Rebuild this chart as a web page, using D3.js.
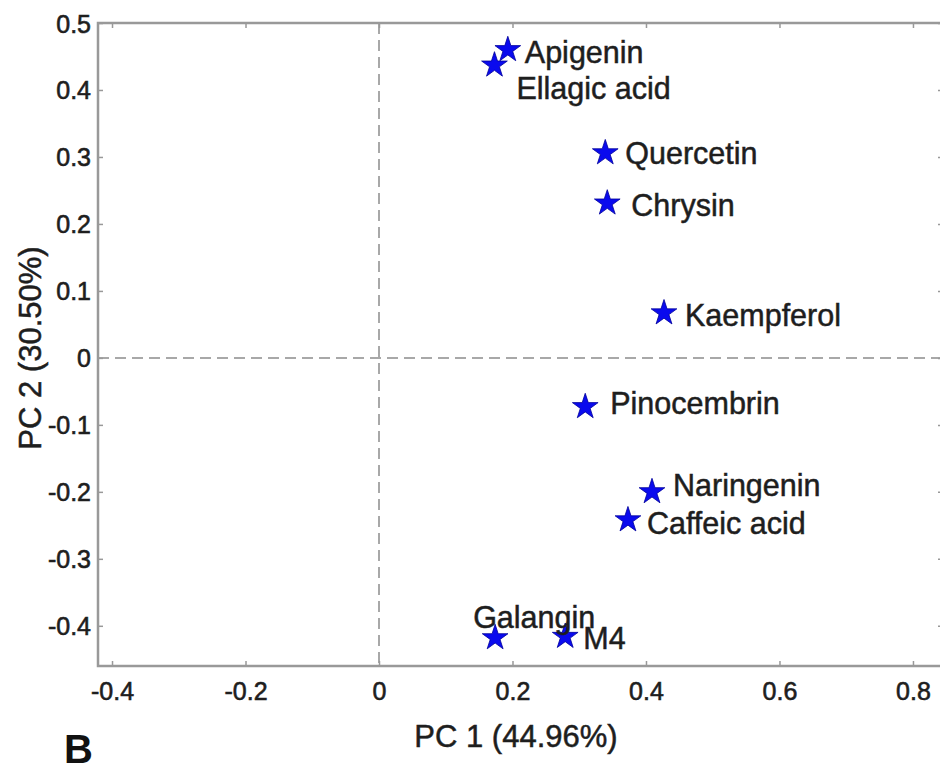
<!DOCTYPE html>
<html>
<head>
<meta charset="utf-8">
<script src="https://cdn.jsdelivr.net/npm/d3@7"></script>
<style>
  html, body { margin: 0; padding: 0; background: #fff; }
  svg { display: block; font-family: "Liberation Sans", Arial, Helvetica, sans-serif; }
</style>
</head>
<body>
<svg width="940" height="772"></svg>
<script>
// compound names and their scores on PC1 / PC2
var names = ["Apigenin", "Ellagic acid", "Quercetin", "Chrysin", "Kaempferol",
             "Pinocembrin", "Naringenin", "Caffeic acid", "Galangin", "M4"];
var pc1 = [0.193, 0.173, 0.339, 0.342, 0.427, 0.309, 0.409, 0.373, 0.174, 0.279];
var pc2 = [0.460, 0.437, 0.306, 0.231, 0.067, -0.073, -0.200, -0.242, -0.418, -0.416];

// tick values and labels
var xTicks = [-0.4, -0.2, 0, 0.2, 0.4, 0.6, 0.8];
var xTickLabels = ["-0.4", "-0.2", "0", "0.2", "0.4", "0.6", "0.8"];
var yTicks = [0.5, 0.4, 0.3, 0.2, 0.1, 0, -0.1, -0.2, -0.3, -0.4];
var yTickLabels = ["0.5", "0.4", "0.3", "0.2", "0.1", "0", "-0.1", "-0.2", "-0.3", "-0.4"];

var xTitle = "PC 1 (44.96%)";
var yTitle = "PC 2 (30.50%)";
var panel = "B";

// where each name sits relative to its star (pixels)
var nudge = {
    "Apigenin": [17, 2], "Ellagic acid": [22, 23], "Quercetin": [20, 0],
    "Chrysin": [24, 2], "Kaempferol": [21, 2], "Pinocembrin": [25, -4],
    "Naringenin": [21, -7], "Caffeic acid": [19, 3], "Galangin": [-22, -21],
    "M4": [18, 1]
};

var data = names.map(function(n, i) {
    return { name: n, x: pc1[i], y: pc2[i] };
});

var svg = d3.select("svg");
var pLeft = 98, pRight = 943, pTop = 23, pBottom = 666;
var axisColor = "#999";
var textColor = "#1e1e1e";

var x = d3.scaleLinear().domain([-0.421, 0.845]).range([pLeft, pRight]);
var y = d3.scaleLinear().domain([-0.46, 0.5]).range([pBottom, pTop]);

// dashed lines through the origin
svg.append("line")
    .attr("x1", x(0)).attr("x2", x(0))
    .attr("y1", pTop).attr("y2", pBottom)
    .attr("stroke", "#a8a8a8").attr("stroke-width", 2)
    .attr("stroke-dasharray", "11,6");
svg.append("line")
    .attr("x1", pLeft).attr("x2", pRight)
    .attr("y1", y(0)).attr("y2", y(0))
    .attr("stroke", "#a8a8a8").attr("stroke-width", 2)
    .attr("stroke-dasharray", "11,6");

// axes, ticks pointing inward
function styleAxis(g) {
    g.select(".domain").remove();
    g.selectAll(".tick line").attr("stroke", axisColor).attr("stroke-width", 1.5);
    g.selectAll(".tick text")
        .attr("fill", textColor)
        .attr("stroke", textColor).attr("stroke-width", 0.6)
        .attr("font-size", 25);
}

svg.append("g")
    .attr("transform", "translate(0," + pBottom + ")")
    .call(d3.axisBottom(x).tickValues(xTicks).tickSize(-5).tickPadding(16)
        .tickFormat(function(d, i) { return xTickLabels[i]; }))
    .call(styleAxis);

svg.append("g")
    .attr("transform", "translate(0," + pTop + ")")
    .call(d3.axisTop(x).tickValues(xTicks).tickSize(-5).tickFormat(""))
    .call(styleAxis);

svg.append("g")
    .attr("transform", "translate(" + pLeft + ",0)")
    .call(d3.axisLeft(y).tickValues(yTicks).tickSize(-5).tickPadding(7)
        .tickFormat(function(d, i) { return yTickLabels[i]; }))
    .call(styleAxis)
    .selectAll(".tick text").attr("dy", "0.36em");

svg.append("g")
    .attr("transform", "translate(" + pRight + ",0)")
    .call(d3.axisRight(y).tickValues(yTicks).tickSize(-5).tickFormat(""))
    .call(styleAxis);

// frame
svg.append("rect")
    .attr("x", pLeft).attr("y", pTop)
    .attr("width", pRight - pLeft).attr("height", pBottom - pTop)
    .attr("fill", "none")
    .attr("stroke", axisColor)
    .attr("stroke-width", 2.5);

// stars
var star = d3.symbol().type(d3.symbolStar).size(205);
svg.selectAll(".pt")
    .data(data)
    .enter().append("path")
    .attr("class", "pt")
    .attr("transform", function(d) { return "translate(" + x(d.x) + "," + y(d.y) + ")"; })
    .attr("d", star)
    .attr("fill", "#0a0aee")
    .attr("stroke", "#00009a")
    .attr("stroke-width", 0.8);

// names
svg.selectAll(".lbl")
    .data(data)
    .enter().append("text")
    .attr("class", "lbl")
    .attr("x", function(d) { return x(d.x) + nudge[d.name][0]; })
    .attr("y", function(d) { return y(d.y) + nudge[d.name][1]; })
    .attr("dy", "0.36em")
    .attr("font-size", 30.5)
    .attr("fill", textColor)
    .attr("stroke", textColor).attr("stroke-width", 0.5)
    .text(function(d) { return d.name; });

// axis titles
svg.append("text")
    .attr("x", 516)
    .attr("y", 747)
    .attr("text-anchor", "middle")
    .attr("font-size", 31)
    .attr("fill", textColor)
    .attr("stroke", textColor).attr("stroke-width", 0.5)
    .text(xTitle);

svg.append("text")
    .attr("transform", "translate(41,348) rotate(-90)")
    .attr("text-anchor", "middle")
    .attr("font-size", 31)
    .attr("fill", textColor)
    .attr("stroke", textColor).attr("stroke-width", 0.5)
    .text(yTitle);

svg.append("text")
    .attr("x", 64)
    .attr("y", 763)
    .attr("font-size", 40)
    .attr("font-weight", "bold")
    .attr("fill", "#111")
    .text(panel);
</script>
</body>
</html>
